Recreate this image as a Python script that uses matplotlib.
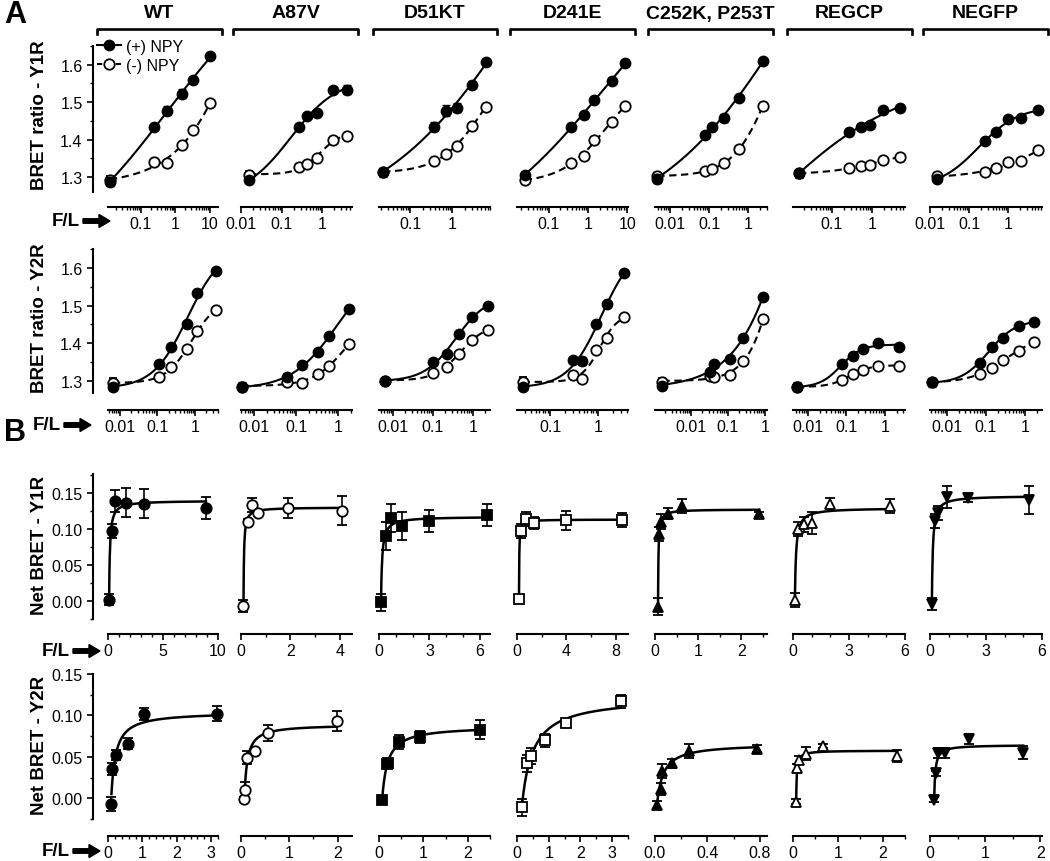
import numpy as np
import matplotlib
matplotlib.use("Agg")
import matplotlib.pyplot as plt
import matplotlib.patches as mpatches
from matplotlib.lines import Line2D
from matplotlib.ticker import MultipleLocator, LogLocator, FuncFormatter, NullFormatter
from matplotlib.transforms import IdentityTransform

plt.rcParams["font.family"] = ["Liberation Sans", "DejaVu Sans"]

# ---------------- data ----------------
constructs = ["WT", "A87V", "D51KT", "D241E", "C252K, P253T", "REGCP", "NEGFP"]

# panel A, BRET ratio - Y1R  (x = F/L)
y1r_fl = [
    [0.013, 0.245, 0.59, 1.6, 3.4, 10.5],
    [0.016, 0.27, 0.43, 0.75, 1.87, 4.1],
    [0.023, 0.37, 0.72, 1.3, 3.0, 6.45],
    [0.025, 0.38, 0.77, 1.42, 4.1, 8.7],
    [0.0047, 0.079, 0.12, 0.24, 0.59, 2.4],
    [0.015, 0.27, 0.53, 0.89, 1.9, 5.0],
    [0.015, 0.26, 0.49, 1.0, 2.15, 5.9],
]
y1r_plus = [
    [1.287, 1.434, 1.477, 1.522, 1.56, 1.624],
    [1.292, 1.434, 1.464, 1.472, 1.533, 1.533],
    [1.313, 1.434, 1.477, 1.485, 1.547, 1.608],
    [1.306, 1.434, 1.467, 1.507, 1.557, 1.605],
    [1.295, 1.413, 1.434, 1.458, 1.512, 1.611],
    [1.31, 1.421, 1.434, 1.439, 1.48, 1.485],
    [1.295, 1.397, 1.421, 1.456, 1.457, 1.48],
]
y1r_minus = [
    [1.292, 1.34, 1.337, 1.386, 1.426, 1.498],
    [1.305, 1.327, 1.335, 1.35, 1.40, 1.41],
    [1.313, 1.343, 1.362, 1.383, 1.437, 1.488],
    [1.292, 1.337, 1.357, 1.40, 1.446, 1.491],
    [1.303, 1.316, 1.321, 1.337, 1.375, 1.49],
    [1.31, 1.324, 1.33, 1.332, 1.346, 1.353],
    [1.302, 1.313, 1.324, 1.34, 1.343, 1.372],
]
y1r_plus_err = [
    [0.012, 0, 0.012, 0.012, 0, 0],
    [0.006, 0, 0, 0, 0, 0.012],
    [0.012, 0.012, 0.015, 0.012, 0.01, 0],
    [0, 0, 0, 0, 0, 0],
    [0.012, 0, 0, 0.01, 0, 0],
    [0.012, 0, 0, 0, 0, 0],
    [0, 0, 0, 0, 0, 0],
]
y1r_minus_err = [
    [0.01, 0, 0, 0, 0, 0],
    [0.012, 0, 0, 0, 0, 0],
    [0, 0, 0, 0, 0, 0],
    [0.01, 0, 0, 0, 0, 0],
    [0.008, 0, 0, 0, 0, 0],
    [0, 0, 0, 0, 0, 0],
    [0.006, 0, 0, 0, 0, 0],
]

# panel A, BRET ratio - Y2R
y2r_fl = [
    [0.0065, 0.113, 0.236, 0.63, 1.12, 3.6],
    [0.0052, 0.061, 0.139, 0.33, 0.61, 1.83],
    [0.0063, 0.1, 0.22, 0.45, 0.94, 2.37],
    [0.027, 0.30, 0.46, 0.91, 1.55, 3.5],
    [0.0017, 0.033, 0.042, 0.11, 0.25, 0.88],
    [0.0052, 0.076, 0.147, 0.27, 0.66, 2.3],
    [0.0041, 0.07, 0.14, 0.27, 0.70, 1.7],
]
y2r_plus = [
    [1.284, 1.345, 1.39, 1.451, 1.533, 1.592],
    [1.284, 1.31, 1.342, 1.377, 1.419, 1.491],
    [1.30, 1.35, 1.372, 1.425, 1.47, 1.499],
    [1.284, 1.356, 1.353, 1.451, 1.504, 1.586],
    [1.287, 1.324, 1.345, 1.358, 1.414, 1.523],
    [1.284, 1.345, 1.366, 1.385, 1.401, 1.39],
    [1.297, 1.348, 1.39, 1.414, 1.446, 1.457],
]
y2r_minus = [
    [1.295, 1.31, 1.337, 1.385, 1.432, 1.488],
    [1.285, 1.297, 1.295, 1.319, 1.34, 1.398],
    [1.30, 1.321, 1.337, 1.372, 1.409, 1.435],
    [1.298, 1.316, 1.305, 1.382, 1.414, 1.47],
    [1.297, 1.313, 1.31, 1.316, 1.353, 1.464],
    [1.284, 1.303, 1.318, 1.329, 1.34, 1.34],
    [1.297, 1.318, 1.334, 1.356, 1.379, 1.403],
]
y2r_plus_err = [
    [0.008, 0, 0, 0, 0, 0],
    [0.012, 0, 0, 0, 0, 0],
    [0, 0, 0, 0, 0, 0],
    [0, 0, 0.01, 0, 0, 0],
    [0.006, 0, 0, 0, 0, 0],
    [0.012, 0, 0, 0, 0, 0],
    [0.012, 0, 0, 0, 0, 0],
]
y2r_minus_err = [
    [0.012, 0, 0, 0, 0, 0],
    [0, 0, 0, 0, 0, 0],
    [0, 0, 0, 0, 0, 0],
    [0.012, 0, 0, 0, 0, 0],
    [0.012, 0, 0, 0, 0, 0],
    [0, 0, 0, 0, 0, 0],
    [0, 0, 0, 0, 0, 0],
]

# panel B, Net BRET - Y1R
net_y1_fl = [
    [0.1, 0.36, 0.64, 1.6, 3.3, 8.9],
    [0.1, 0.27, 0.46, 0.7, 1.9, 4.1],
    [0.12, 0.4, 0.7, 1.37, 3.0, 6.4],
    [0.16, 0.3, 0.7, 1.4, 4.0, 8.5],
    [0.07, 0.1, 0.14, 0.3, 0.63, 2.42],
    [0.1, 0.27, 0.6, 1.0, 2.0, 5.2],
    [0.1, 0.27, 0.45, 0.9, 2.05, 5.3],
]
net_y1 = [
    [0.002, 0.097, 0.139, 0.136, 0.135, 0.129],
    [-0.007, 0.11, 0.133, 0.122, 0.129, 0.125],
    [-0.002, 0.09, 0.115, 0.104, 0.111, 0.119],
    [0.003, 0.097, 0.114, 0.108, 0.112, 0.112],
    [-0.008, 0.093, 0.11, 0.121, 0.132, 0.12],
    [0.001, 0.1, 0.106, 0.108, 0.135, 0.132],
    [-0.004, 0.111, 0.122, 0.144, 0.143, 0.14],
]
net_y1_err = [
    [0.008, 0.01, 0.015, 0.02, 0.02, 0.015],
    [0.008, 0.004, 0.01, 0.004, 0.014, 0.02],
    [0.012, 0.02, 0.02, 0.02, 0.015, 0.015],
    [0.002, 0.01, 0.01, 0.008, 0.013, 0.01],
    [0.012, 0.01, 0.01, 0.008, 0.01, 0.004],
    [0.01, 0.01, 0.01, 0.015, 0.008, 0.01],
    [0.008, 0.01, 0.01, 0.015, 0.006, 0.02],
]

# panel B, Net BRET - Y2R
net_y2_fl = [
    [0.1, 0.12, 0.23, 0.57, 1.06, 3.18],
    [0.07, 0.08, 0.12, 0.29, 0.55, 1.98],
    [0.07, 0.18, 0.21, 0.46, 0.92, 2.28],
    [0.16, 0.32, 0.44, 0.88, 1.54, 3.27],
    [0.015, 0.045, 0.05, 0.13, 0.26, 0.78],
    [0.07, 0.1, 0.14, 0.29, 0.67, 2.33],
    [0.075, 0.1, 0.15, 0.27, 0.71, 1.69],
]
net_y2 = [
    [-0.007, 0.035, 0.052, 0.066, 0.102, 0.102],
    [-0.001, 0.01, 0.049, 0.057, 0.079, 0.093],
    [-0.002, 0.041, 0.043, 0.068, 0.074, 0.083],
    [-0.011, 0.042, 0.051, 0.07, 0.091, 0.117],
    [-0.008, 0.011, 0.033, 0.042, 0.057, 0.06],
    [-0.004, 0.037, 0.046, 0.054, 0.063, 0.051],
    [-0.002, 0.03, 0.055, 0.055, 0.071, 0.055],
]
net_y2_err = [
    [0.008, 0.007, 0.006, 0.007, 0.007, 0.009],
    [0.003, 0.01, 0.008, 0.003, 0.01, 0.012],
    [0.002, 0.005, 0.005, 0.008, 0.007, 0.012],
    [0.01, 0.01, 0.01, 0.008, 0.005, 0.008],
    [0.005, 0.007, 0.008, 0.005, 0.008, 0.004],
    [0.003, 0.004, 0.005, 0.008, 0.002, 0.007],
    [0.003, 0.003, 0.006, 0.006, 0.006, 0.008],
]

# ---------------- axis ranges / layout ----------------
y1r_xlim = [(0.0114, 17.6), (0.01, 5.5), (0.0183, 8.0), (0.0159, 10.3),
            (0.0041, 3.07), (0.0106, 6.7), (0.01, 7.4)]
y2r_xlim = [(0.0048, 4.1), (0.0049, 2.15), (0.0045, 2.66), (0.0205, 4.2),
            (0.00107, 1.13), (0.0041, 3.3), (0.0037, 2.73)]
net1_xlim = [10, 4.5, 6.6, 9, 2.6, 6, 6]
net1_major = [5, 2, 3, 4, 1, 3, 3]
net1_minor = [1, 1, 1, 2, 0.5, 1, 1]
net2_xlim = [3.2, 2.3, 2.5, 3.5, 0.855, 2.5, 2.03]
net2_major = [1, 1, 1, 1, 0.4, 1, 1]
net2_minor = [0.2, 0.5, 0.5, 0.5, 0.2, 0.5, 0.5]

markers = ["o", "o", "s", "s", "^", "^", "v"]
filled = [True, False, True, False, True, False, True]

W, H = 1050, 862
col_left = [108, 241, 379, 517, 655, 793, 930]
col_right = [218, 352, 490, 628, 767, 905, 1042]
row_span = [(47, 193), (250, 394), (475, 620), (675, 820)]
row_drop = [15, 17, 15, 17]
ylabels = ["BRET ratio - Y1R", "BRET ratio - Y2R", "Net BRET - Y1R", "Net BRET - Y2R"]
ylabel_y = [115, 318, 545, 745]
fl_pos = [(52, 222), (33, 426), (42, 652), (42, 852)]
brackets = [(97, 222), (233, 358), (373, 497), (510, 635), (648, 773), (787, 912), (923, 1048)]

TICK_FS = 11.5
LW = 1.5


def fit_logistic(x, y):
    lx = np.log10(x)
    cs = np.linspace(lx.min() - 1.5, lx.max() + 1.5, 151)
    hs = np.linspace(0.25, 3.0, 56)
    C, Hh = np.meshgrid(cs, hs, indexing="ij")
    S = 1.0 / (1.0 + 10.0 ** ((C[..., None] - lx) * Hh[..., None]))
    sm = S.mean(-1, keepdims=True)
    ym = y.mean()
    var = ((S - sm) ** 2).sum(-1)
    cov = ((S - sm) * (y - ym)).sum(-1)
    k = cov / np.where(var > 1e-12, var, np.nan)
    b = ym - k * sm[..., 0]
    sse = ((b[..., None] + k[..., None] * S - y) ** 2).sum(-1)
    i = np.unravel_index(np.nanargmin(sse), sse.shape)
    c, h, bb, kk = C[i], Hh[i], b[i], k[i]
    return lambda xx: bb + kk / (1.0 + 10.0 ** ((c - np.log10(xx)) * h))


def fit_hyperbola(x, y):
    es = -x.min() + np.logspace(-4, 1, 500) * x.max()
    U = 1.0 / (x[None, :] + es[:, None])
    um = U.mean(1, keepdims=True)
    ym = y.mean()
    k = ((U - um) * (y - ym)).sum(1) / ((U - um) ** 2).sum(1)
    b = ym - k * um[:, 0]
    sse = ((b[:, None] + k[:, None] * U - y) ** 2).sum(1)
    i = np.argmin(sse)
    e, bb, kk = es[i], b[i], k[i]
    return lambda xx: bb + kk / (xx + e)


def style_axes(ax, r, c):
    for s in ["top", "right"]:
        ax.spines[s].set_visible(False)
    ax.spines["bottom"].set_position(("outward", row_drop[r] * 0.72))
    ax.spines["bottom"].set_linewidth(LW)
    ax.tick_params(which="major", length=4.5, width=1.2, labelsize=TICK_FS, pad=2)
    ax.tick_params(which="minor", length=2.5, width=1.0)
    if c == 0:
        ax.spines["left"].set_position(("outward", 15 * 0.72))
        ax.spines["left"].set_linewidth(LW)
        ax.tick_params(axis="y", pad=3)
    else:
        ax.spines["left"].set_visible(False)
        ax.tick_params(axis="y", which="both", left=False, labelleft=False)
    ax.patch.set_visible(False)


fig = plt.figure(figsize=(W / 100, H / 100), dpi=100)

rows_log = [
    (y1r_fl, y1r_plus, y1r_minus, y1r_plus_err, y1r_minus_err, y1r_xlim, (1.26, 1.65)),
    (y2r_fl, y2r_plus, y2r_minus, y2r_plus_err, y2r_minus_err, y2r_xlim, (1.268, 1.65)),
]
rows_lin = [
    (net_y1_fl, net_y1, net_y1_err, net1_xlim, net1_major, net1_minor, (-0.025, 0.176)),
    (net_y2_fl, net_y2, net_y2_err, net2_xlim, net2_major, net2_minor, (-0.025, 0.15)),
]

for r in range(4):
    top, bot = row_span[r]
    for c in range(7):
        ax = fig.add_axes([col_left[c] / W, 1 - bot / H,
                           (col_right[c] - col_left[c]) / W, (bot - top) / H])
        style_axes(ax, r, c)
        if r < 2:
            fl, yp, ym, ep, em, xl, yl = rows_log[r]
            x = np.array(fl[c])
            xx = np.logspace(np.log10(x.min()), np.log10(x.max()), 200)
            fm = fit_logistic(x, np.array(ym[c]))
            fp = fit_logistic(x, np.array(yp[c]))
            ax.plot(xx, fm(xx), color="k", lw=LW, ls="--", dashes=(3.5, 2.2), zorder=2)
            ax.plot(xx, fp(xx), color="k", lw=LW, zorder=2)
            ax.errorbar(x, ym[c], yerr=em[c], fmt="o", ms=7.5, mfc="white", mec="k",
                        mew=1.3, ecolor="k", elinewidth=1.2, capsize=3, zorder=3, clip_on=False)
            ax.errorbar(x, yp[c], yerr=ep[c], fmt="o", ms=7.5, mfc="k", mec="k",
                        ecolor="k", elinewidth=1.2, capsize=3, zorder=4, clip_on=False)
            ax.set_xscale("log")
            ax.set_xlim(*xl[c])
            ax.set_ylim(*yl)
            ax.xaxis.set_major_locator(LogLocator(base=10))
            ax.xaxis.set_minor_locator(LogLocator(base=10, subs=np.arange(2, 10)))
            ax.xaxis.set_major_formatter(FuncFormatter(lambda v, p: "%g" % v))
            ax.xaxis.set_minor_formatter(NullFormatter())
            ax.yaxis.set_major_locator(MultipleLocator(0.1))
            ax.yaxis.set_minor_locator(MultipleLocator(0.05))
            ax.yaxis.set_major_formatter(FuncFormatter(lambda v, p: "%.1f" % v))
        else:
            fl, yv, ev, xl, mj, mn, yl = rows_lin[r - 2]
            x = np.array(fl[c])
            y = np.array(yv[c])
            f = fit_hyperbola(x, y)
            xx = np.linspace(x.min(), x.max(), 300)
            ax.plot(xx, f(xx), color="k", lw=LW + 0.3, zorder=2)
            ms = 6.5 if markers[c] == "s" else 7.5
            ax.errorbar(x, y, yerr=ev[c], fmt=markers[c], ms=ms,
                        mfc="k" if filled[c] else "white", mec="k", mew=1.3,
                        ecolor="k", elinewidth=1.2, capsize=3.5, capthick=1.2,
                        zorder=3, clip_on=False)
            ax.set_xlim(0, xl[c])
            ax.set_ylim(*yl)
            ax.xaxis.set_major_locator(MultipleLocator(mj[c]))
            ax.xaxis.set_minor_locator(MultipleLocator(mn[c]))
            fmt = "%.1f" if mj[c] < 1 else "%g"
            ax.xaxis.set_major_formatter(FuncFormatter(lambda v, p, fmt=fmt: fmt % v))
            ax.yaxis.set_major_locator(MultipleLocator(0.05))
            ax.yaxis.set_minor_locator(MultipleLocator(0.025))
            ax.yaxis.set_major_formatter(FuncFormatter(lambda v, p: "%.2f" % v))
        if r == 0 and c == 0:
            h_plus = Line2D([], [], color="k", lw=LW, marker="o", ms=7.5, mfc="k")
            h_minus = Line2D([], [], color="k", lw=LW, ls="--", dashes=(2.5, 2),
                             marker="o", ms=7.5, mfc="white", mec="k", mew=1.3)
            fig.legend([h_plus, h_minus], ["(+) NPY", "(-) NPY"], loc="upper left",
                       bbox_to_anchor=(97 / W, 1 - 40 / H), frameon=False,
                       fontsize=TICK_FS, handlelength=1.5, handletextpad=0.3,
                       labelspacing=0.25, borderpad=0, borderaxespad=0)

# row labels
for r in range(4):
    fig.text(40 / W, 1 - ylabel_y[r] / H, ylabels[r], rotation=90, ha="center",
             va="center", fontsize=13.5, fontweight="bold")

# F/L arrows
for (x0, yc) in fl_pos:
    fig.text(x0 / W, 1 - yc / H, "F/L", ha="left", va="center",
             fontsize=13.5, fontweight="bold")
    arr = mpatches.FancyArrow(x0 + 31, H - yc, 27, 0, width=4.5, head_width=13,
                              head_length=11, length_includes_head=True,
                              color="k", transform=IdentityTransform())
    fig.add_artist(arr)

# construct brackets and titles
for name, (bx0, bx1) in zip(constructs, brackets):
    ys = [H - 35, H - 30, H - 30, H - 35]
    fig.add_artist(Line2D([bx0, bx0, bx1, bx1], ys, color="k", lw=1.9,
                          solid_joinstyle="round", transform=IdentityTransform()))
    fig.text((bx0 + bx1) / 2 / W, 1 - 14 / H, name, ha="center", va="center",
             fontsize=14, fontweight="bold")

fig.text(4 / W, 1 - 15 / H, "A", ha="left", va="center", fontsize=22, fontweight="bold")
fig.text(4 / W, 1 - 433 / H, "B", ha="left", va="center", fontsize=22, fontweight="bold")

fig.savefig("out.png", dpi=100)
